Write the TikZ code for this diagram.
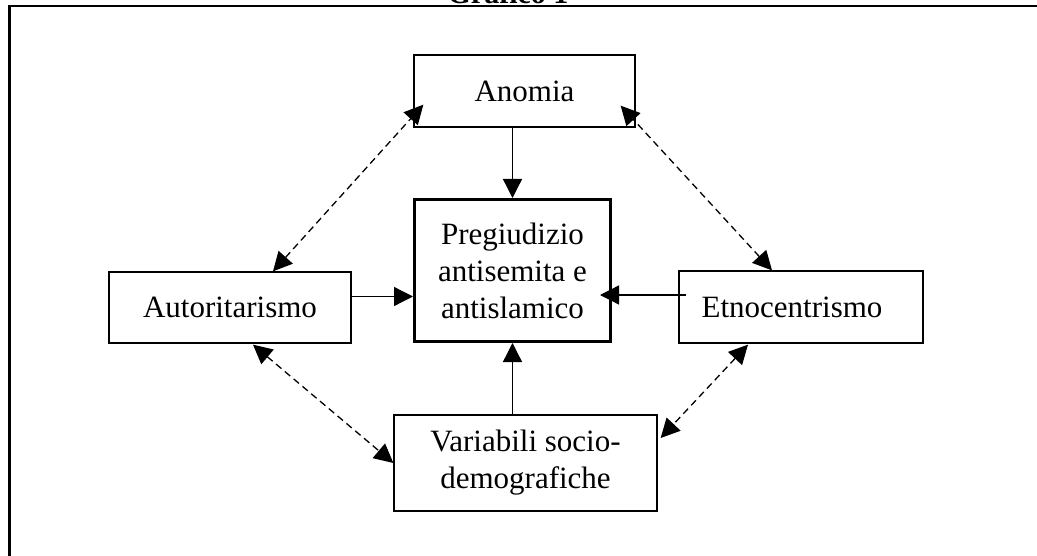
\documentclass[tikz,border=0pt]{standalone}
\usepackage{fontspec}
\setmainfont{Liberation Serif}
\usetikzlibrary{arrows.meta,calc}

\begin{document}
\begin{tikzpicture}[
  x=1pt, y=-1pt,
  every node/.style={font=\fontsize{31}{37}\selectfont},
  varbox/.style={rectangle, draw, line width=1.3pt, inner sep=0pt,
                 align=center},
  mainbox/.style={rectangle, draw, line width=3pt, inner sep=0pt,
                  align=center, minimum width=196pt, minimum height=142pt},
  effect/.style={-{Triangle[length=19pt, width=19pt]}, line width=1.3pt},
  assoc/.style={{Triangle[length=19pt, width=19pt]}-{Triangle[length=19pt, width=19pt]},
                line width=1.3pt, dash pattern=on 7pt off 4.5pt}
]
  \useasboundingbox (0,0) rectangle (1037,556);
  \clip (0,0) rectangle (1037,556);
  % frame and title
  \draw[line width=2.5pt] (9.5,620) |- (1100,6);
  \node[font=\fontsize{30}{36}\selectfont\bfseries, anchor=base] (title) at (508,4) {Grafico 1};
  % boxes
  \node[varbox, minimum width=221pt, minimum height=72pt] (anom) at (524.5,91) {Anomia};
  \node[mainbox] (preg) at (512.5,270.5) {Pregiudizio\\antisemita e\\antislamico};
  \node[varbox, minimum width=242pt, minimum height=71pt] (auto) at (230,307.5) {Autoritarismo};
  \node[varbox, minimum width=244pt, minimum height=72pt] (etno) at (801,307) {\hspace*{-18pt}Etnocentrismo};
  \node[varbox, minimum width=263pt, minimum height=96pt] (var) at (525.5,463) {Variabili socio-\\demografiche};
  % direct effects
  \draw[effect] (anom.south -| preg.north) -- (preg.north);
  \draw[effect] (var.north -| preg.south) -- (preg.south);
  \draw[effect] ($(auto.east)+(0,-11)$) -- ($(auto.east -| preg.west)+(0,-11)$);
  \draw[effect] ($(etno.west)+(8,-12)$) -- ($(etno.west -| preg.east)+(-12,-12)$);
  % associations
  \draw[assoc] ($(auto.north)+(43,0)$) -- ($(anom.south west)+(10,-23)$);
  \draw[assoc] ($(etno.north)+(-29,0)$) -- ($(anom.south east)+(-15,-22)$);
  \draw[assoc] ($(auto.south)+(23,1)$) -- (var.west);
  \draw[assoc] ($(etno.south)+(-53,1)$) -- ($(var.east)+(3,-25)$);
\end{tikzpicture}
\end{document}
